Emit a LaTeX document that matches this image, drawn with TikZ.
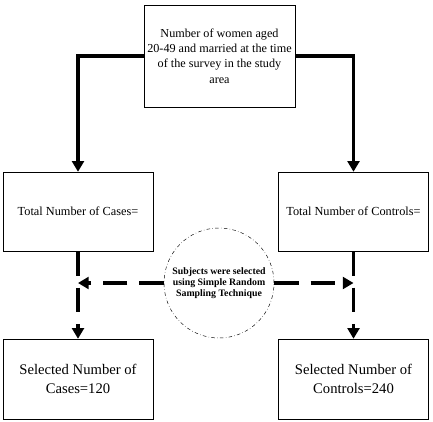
\documentclass[tikz,border=0pt]{standalone}
\usepackage{fontspec}
\setmainfont{Liberation Serif}
\usetikzlibrary{positioning, arrows.meta}

\begin{document}
\begin{tikzpicture}[x=0.03cm, y=-0.03cm, >={Triangle[length=9pt, width=10pt]},
    box/.style={draw, thin, align=center, inner sep=2pt},
    thick line/.style={line width=3pt},
    dash line/.style={line width=3pt, dash pattern=on 21pt off 10pt}]
    \useasboundingbox (0,0) rectangle (433,421);
    \node[box, minimum width=4.53cm, minimum height=3.06cm, font=\fontsize{10.4}{13}\selectfont] (pop) at (219.5,56) {Number of women aged\\20-49 and married at the time\\of the survey in the study\\area};
    \node[box, minimum width=4.5cm, minimum height=2.37cm, font=\fontsize{10.5}{12}\selectfont] (cases) at (78,211.5) {Total Number of Cases=};
    \node[box, minimum width=4.5cm, minimum height=2.37cm, font=\fontsize{10.5}{12}\selectfont] (controls) at (353.5,211.5) {Total Number of Controls=};
    \node[box, minimum width=4.5cm, minimum height=2.4cm, font=\fontsize{12.5}{16}\selectfont] (selcases) at (78,379) {Selected Number of\\Cases=120};
    \node[box, minimum width=4.5cm, minimum height=2.4cm, font=\fontsize{12.5}{16}\selectfont] (selcontrols) at (353.5,379) {Selected Number of\\Controls=240};
    \node[draw, circle, thin, dash dot, minimum size=3.3cm, align=center, font=\fontsize{8.4}{9.6}\selectfont\bfseries] (srs) at (219,283) {Subjects were selected\\using Simple Random\\Sampling Technique};
    \coordinate (lmeet) at (cases.south |- srs.west);
    \coordinate (rmeet) at (controls.south |- srs.east);
    \draw[thick line, ->] (pop.west) -| (cases.north);
    \draw[thick line, ->] (pop.east) -| (controls.north);
    \draw[dash line, ->] (cases.south) -- (selcases.north);
    \draw[dash line, ->] (controls.south) -- (selcontrols.north);
    \draw[dash line, ->] (srs.west) -- (lmeet);
    \draw[dash line, ->] (srs.east) -- (rmeet);
\end{tikzpicture}
\end{document}
